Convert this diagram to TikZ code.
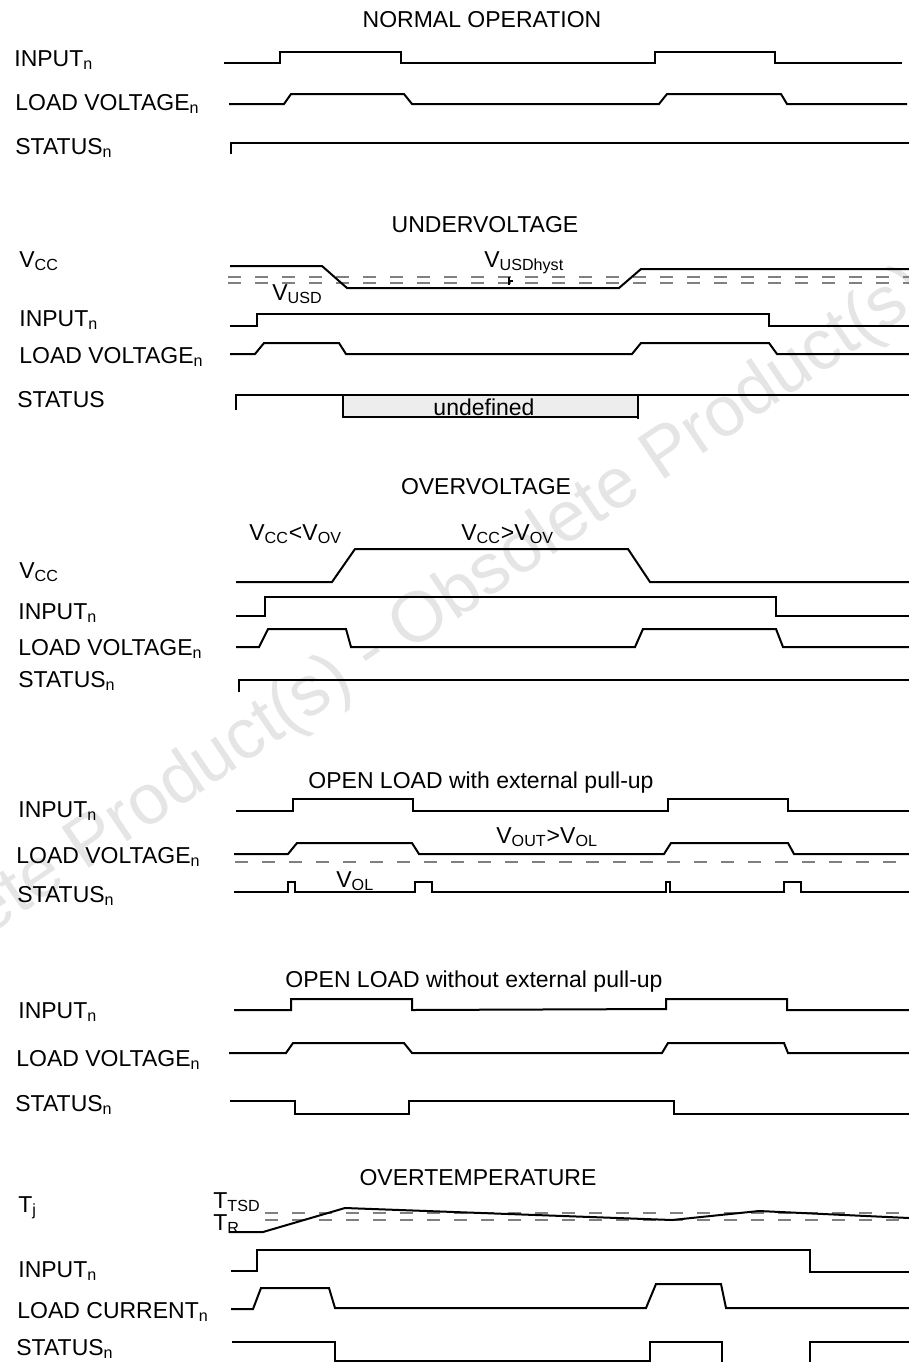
\documentclass[tikz,border=0pt]{standalone}
\usepackage{fontspec}
\setmainfont{Liberation Sans}

\newcommand{\lblfont}{\fontsize{11.5}{13}\selectfont}
\newcommand{\sbs}[1]{\textsubscript{#1}}

\tikzset{
  sig/.style={line width=1pt, line join=miter},
  thr/.style={gray, line width=0.7pt, dash pattern=on 6.5pt off 7pt},
  lbl/.style={anchor=base west, inner sep=0pt, font=\lblfont},
  ttl/.style={anchor=base, inner sep=0pt, font=\lblfont},
}

\begin{document}
\begin{tikzpicture}[x=0.5pt, y=-0.5pt, line cap=butt]

    \useasboundingbox (0,0) rectangle (909,1362);

    % watermark
    \node[rotate=34, text=black!10, font=\fontsize{35.5}{40}\selectfont] (wm) at (372,655) {Obsolete Product(s) - Obsolete Product(s)};

    % ---------- NORMAL OPERATION ----------
    \node[ttl] (t1) at (482,27) {NORMAL OPERATION};
    \node[lbl] (in1) at (14,66) {INPUT\sbs{n}};
    \node[lbl] (lv1) at (15,110) {LOAD VOLTAGE\sbs{n}};
    \node[lbl] (st1) at (15,154) {STATUS\sbs{n}};

    \draw[sig] (224,63) -- (280,63) -- (280,52) -- (401,52) -- (401,63) -- (655,63) -- (655,52) -- (775,52) -- (775,63) -- (902,63);
    \draw[sig] (229,104) -- (284,104) -- (291,94) -- (404,94) -- (412,104) -- (659,104) -- (667,94) -- (781,94) -- (787,104) -- (907,104);
    \draw[sig] (231,154) -- (231,143) -- (909,143);

    % ---------- UNDERVOLTAGE ----------
    \node[ttl] (t2) at (485,232) {UNDERVOLTAGE};
    \node[lbl] (vc2) at (19,267) {V\sbs{CC}};
    \node[lbl] (in2) at (19,326) {INPUT\sbs{n}};
    \node[lbl] (lv2) at (19,363) {LOAD VOLTAGE\sbs{n}};
    \node[lbl] (st2) at (17,407) {STATUS};

    % thresholds
    \draw[thr] (228,277) -- (909,277);
    \draw[thr] (228,283) -- (909,283);
    \node[lbl] (hys) at (484,267) {V\sbs{USDhyst}};
    \node[lbl] (usd) at (272,300) {V\sbs{USD}};
    \draw[line width=0.6pt] (509,277) -- (509,285) (509,281) -- (513,281);

    \draw[sig] (230,266) -- (322,266) -- (347,288) -- (619,288) -- (641,269) -- (909,269);
    \draw[sig] (230,326) -- (257,326) -- (257,314) -- (769,314) -- (769,326) -- (909,326);
    \draw[sig] (230,354) -- (255,354) -- (264,343) -- (339,343) -- (346,354) -- (632,354) -- (641,343) -- (769,343) -- (777,354) -- (909,354);
    \draw[line width=0.8pt, fill=black!7] (343,395) rectangle (638,417);
    \draw[line width=0.8pt] (638,417) -- (638,419);
    \node[inner sep=0pt, font=\lblfont] (und) at (484,407) {undefined};
    \draw[sig] (236,410) -- (236,395) -- (909,395);

    % ---------- OVERVOLTAGE ----------
    \node[ttl] (t3) at (486,494) {OVERVOLTAGE};
    \node[lbl] (ovl) at (249,540) {V\sbs{CC}<V\sbs{OV}};
    \node[lbl] (ovh) at (461,540) {V\sbs{CC}>V\sbs{OV}};
    \node[lbl] (vc3) at (19,578) {V\sbs{CC}};
    \node[lbl] (in3) at (18,619) {INPUT\sbs{n}};
    \node[lbl] (lv3) at (18,655) {LOAD VOLTAGE\sbs{n}};
    \node[lbl] (st3) at (18,687) {STATUS\sbs{n}};

    \draw[sig] (236,582) -- (332,582) -- (355,549) -- (628,549) -- (650,582) -- (909,582);
    \draw[sig] (236,616) -- (265,616) -- (265,597) -- (776,597) -- (776,616) -- (909,616);
    \draw[sig] (236,647) -- (259,647) -- (268,629) -- (346,629) -- (351,647) -- (635,647) -- (643,629) -- (776,629) -- (783,647) -- (909,647);
    \draw[sig] (239,692) -- (239,680) -- (909,680);

    % ---------- OPEN LOAD with external pull-up ----------
    \node[ttl] (t4) at (481,788) {OPEN LOAD with external pull-up};
    \node[lbl] (in4) at (18,817) {INPUT\sbs{n}};
    \node[lbl] (lv4) at (16,863) {LOAD VOLTAGE\sbs{n}};
    \node[lbl] (st4) at (17,902) {STATUS\sbs{n}};

    \draw[thr] (235,862) -- (909,862);
    \node[lbl] (vout) at (496,843) {V\sbs{OUT}>V\sbs{OL}};
    \node[lbl] (vol) at (336,887) {V\sbs{OL}};

    \draw[sig] (236,811) -- (293,811) -- (293,799) -- (413,799) -- (413,811) -- (668,811) -- (668,799) -- (788,799) -- (788,811) -- (909,811);
    \draw[sig] (234,854) -- (288,854) -- (297,843) -- (412,843) -- (419,854) -- (664,854) -- (671,843) -- (788,843) -- (794,854) -- (909,854);
    \draw[sig] (234,892) -- (288,892) -- (288,882) -- (295,882) -- (295,892) -- (415,892) -- (415,882) -- (432,882) -- (432,892)
        -- (666,892) -- (666,882) -- (670,882) -- (670,892) -- (784,892) -- (784,882) -- (801,882) -- (801,892) -- (909,892);

    % ---------- OPEN LOAD without external pull-up ----------
    \node[ttl] (t5) at (474,987) {OPEN LOAD without external pull-up};
    \node[lbl] (in5) at (18,1018) {INPUT\sbs{n}};
    \node[lbl] (lv5) at (16,1066) {LOAD VOLTAGE\sbs{n}};
    \node[lbl] (st5) at (15,1111) {STATUS\sbs{n}};

    \draw[sig] (234,1010) -- (291,1010) -- (291,999) -- (412,999) -- (412,1010) -- (666,1009) -- (666,999) -- (787,999) -- (787,1010) -- (909,1010);
    \draw[sig] (229,1053) -- (286,1053) -- (293,1043) -- (404,1043) -- (412,1053) -- (662,1053) -- (668,1043) -- (784,1043) -- (788,1053) -- (909,1053);
    \draw[sig] (230,1101) -- (295,1101) -- (295,1114) -- (409,1114) -- (409,1101) -- (674,1101) -- (674,1114) -- (909,1114);

    % ---------- OVERTEMPERATURE ----------
    \node[ttl] (t6) at (478,1185) {OVERTEMPERATURE};
    \node[lbl] (tj6) at (18,1212) {T\sbs{j}};
    \node[lbl] (in6) at (18,1277) {INPUT\sbs{n}};
    \node[lbl] (lc6) at (17,1318) {LOAD CURRENT\sbs{n}};
    \node[lbl] (st6) at (16,1355) {STATUS\sbs{n}};

    \draw[thr] (265,1213) -- (909,1213);
    \draw[thr] (265,1220) -- (909,1220);
    \node[lbl] (tsd) at (213,1208) {T\sbs{TSD}};
    \node[lbl] (tr) at (213,1230) {T\sbs{R}};

    \draw[sig] (229,1232) -- (263,1232) -- (345,1208) -- (672,1220) -- (759,1211) -- (909,1218);
    \draw[sig] (231,1271) -- (257,1271) -- (257,1250) -- (810,1250) -- (810,1272) -- (909,1272);
    \draw[sig] (231,1309) -- (253,1309) -- (261,1288) -- (329,1288) -- (335,1308) -- (646,1308) -- (656,1284) -- (721,1284) -- (726,1308) -- (909,1308);
    \draw[sig] (232,1342) -- (335,1342) -- (335,1361) -- (650,1361) -- (650,1342) -- (722,1342) -- (722,1362);
    \draw[sig] (810,1362) -- (810,1342) -- (909,1342);

\end{tikzpicture}
\end{document}
